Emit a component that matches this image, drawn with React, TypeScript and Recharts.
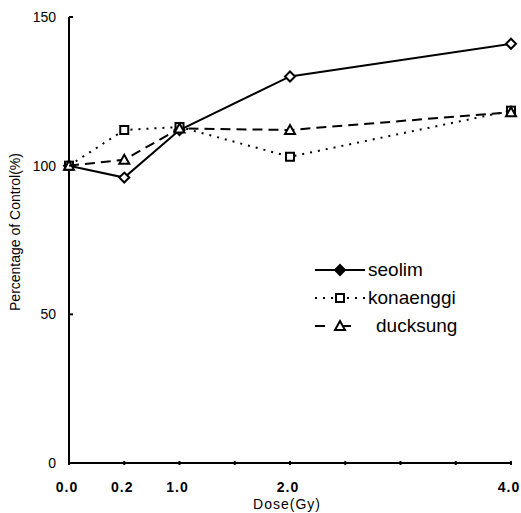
import { LineChart, Line, XAxis, YAxis, Legend } from "recharts";

// dose levels and where they sit on the (unevenly spaced) x axis
const doseLabels = ["0.0", "0.2", "1.0", "2.0", "4.0"];
const dosePos = [0, 1, 2, 4, 8];
const xTicks = [0, 1, 2, 3, 4, 5, 6, 7, 8];
const yTicks = [0, 50, 100, 150];

const seolim = [100, 96, 112, 130, 141];
const konaenggi = [100, 112, 113, 103, 118.5];
const ducksung = [100, 102, 112.5, 112, 118];

const series = [
  { key: "seolim", dash: undefined, shape: "diamond" },
  { key: "konaenggi", dash: "2 6", shape: "square" },
  { key: "ducksung", dash: "10 6", shape: "triangle" },
];

const data = dosePos.map((pos, i) => ({
  pos,
  dose: doseLabels[i],
  seolim: seolim[i],
  konaenggi: konaenggi[i],
  ducksung: ducksung[i],
}));

const FONT = '"Liberation Sans", Arial, sans-serif';

function marker(shape: string, cx: number, cy: number, fill: string, key?: string) {
  if (shape === "diamond") {
    const r = 5;
    return (
      <path key={key} d={`M${cx},${cy - r}L${cx + r},${cy}L${cx},${cy + r}L${cx - r},${cy}Z`}
        fill={fill} stroke="#000" strokeWidth={2} />
    );
  }
  if (shape === "square") {
    return <rect key={key} x={cx - 4} y={cy - 4} width={8} height={8} fill="#fff" stroke="#000" strokeWidth={2} />;
  }
  return (
    <path key={key} d={`M${cx},${cy - 5}L${cx + 5},${cy + 4}L${cx - 5},${cy + 4}Z`}
      fill="#fff" stroke="#000" strokeWidth={2} />
  );
}

function dotFor(shape: string) {
  return (props: any) => marker(shape, props.cx, props.cy, "#fff", `${shape}-${props.index}`);
}

function YTick(props: any) {
  const { x, y, payload } = props;
  const axisX = x + 13;
  return (
    <g>
      <line x1={axisX} y1={y} x2={axisX + 4} y2={y} stroke="#000" strokeWidth={2} />
      <text x={x} y={y} dy={5} textAnchor="end" fontFamily={FONT} fontSize={14} fill="#000">
        {payload.value}
      </text>
    </g>
  );
}

function XTick(props: any) {
  const { x, y, payload } = props;
  const idx = dosePos.indexOf(payload.value);
  const axisY = y;
  return (
    <g>
      <line x1={x} y1={axisY} x2={x} y2={axisY - 4} stroke="#000" strokeWidth={2} />
      {idx >= 0 && (
        <text x={x - 2} y={axisY + 27} textAnchor="middle" fontFamily={FONT} fontSize={14}
          fontWeight={600} letterSpacing={1} fill="#000">
          {doseLabels[idx]}
        </text>
      )}
    </g>
  );
}

function renderLegend(props: any) {
  const payload = [...(props.payload || [])].sort(
    (a: any, b: any) =>
      series.findIndex((q) => q.key === a.dataKey) - series.findIndex((q) => q.key === b.dataKey)
  );
  return (
    <div>
      {payload.map((entry: any) => {
        const s = series.find((q) => q.key === entry.dataKey)!;
        return (
          <div key={entry.value} style={{ display: "flex", alignItems: "center", height: 28 }}>
            <svg width={55} height={20}>
              <line x1={2} y1={10} x2={52} y2={10} stroke="#000" strokeWidth={2}
                strokeDasharray={s.shape === "triangle" ? "10 16" : s.dash} />
              {marker(s.shape, 27, 10, s.shape === "diamond" ? "#000" : "#fff")}
            </svg>
            <span style={{ fontFamily: FONT, fontSize: 19, color: "#000", marginLeft: s.shape === "triangle" ? 8 : 0 }}>
              {entry.value}
            </span>
          </div>
        );
      })}
    </div>
  );
}

export default function App() {
  return (
    <div style={{ position: "absolute", left: 0, top: 0, width: 521, height: 513, background: "#fff" }}>
      <LineChart width={521} height={513} data={data} margin={{ top: 17, right: 10, bottom: 0, left: 0 }}>
        <XAxis
          dataKey="pos"
          type="number"
          domain={[0, 8]}
          ticks={xTicks}
          height={50}
          tickSize={0}
          tick={<XTick />}
          axisLine={{ stroke: "#000", strokeWidth: 2 }}
          label={{
            content: (p: any) => {
              const vb = p.viewBox;
              return (
                <text x={vb.x + vb.width / 2 - 3} y={vb.y + 46} textAnchor="middle" fontFamily={FONT}
                  fontSize={14} letterSpacing={1} fill="#000">
                  Dose(Gy)
                </text>
              );
            },
          }}
        />
        <YAxis
          type="number"
          domain={[0, 150]}
          ticks={yTicks}
          width={69}
          tickSize={0}
          tickMargin={13}
          tick={<YTick />}
          axisLine={{ stroke: "#000", strokeWidth: 2 }}
          label={{
            content: (p: any) => {
              const vb = p.viewBox;
              const cx = vb.x + 15;
              const cy = vb.y + vb.height / 2 - 8;
              return (
                <text x={cx} y={cy} transform={`rotate(-90 ${cx} ${cy})`} textAnchor="middle"
                  dominantBaseline="central" fontFamily={FONT} fontSize={14} fill="#000">
                  Percentage of Control(%)
                </text>
              );
            },
          }}
        />
        <Legend
          layout="vertical"
          align="center"
          verticalAlign="middle"
          content={renderLegend}
          wrapperStyle={{ left: 313, top: 256, width: 200 }}
        />
        {series.map((s) => (
          <Line
            key={s.key}
            dataKey={s.key}
            name={s.key}
            stroke="#000"
            strokeWidth={2}
            strokeDasharray={s.dash}
            dot={dotFor(s.shape)}
            activeDot={false}
            isAnimationActive={false}
          />
        ))}
      </LineChart>
    </div>
  );
}
